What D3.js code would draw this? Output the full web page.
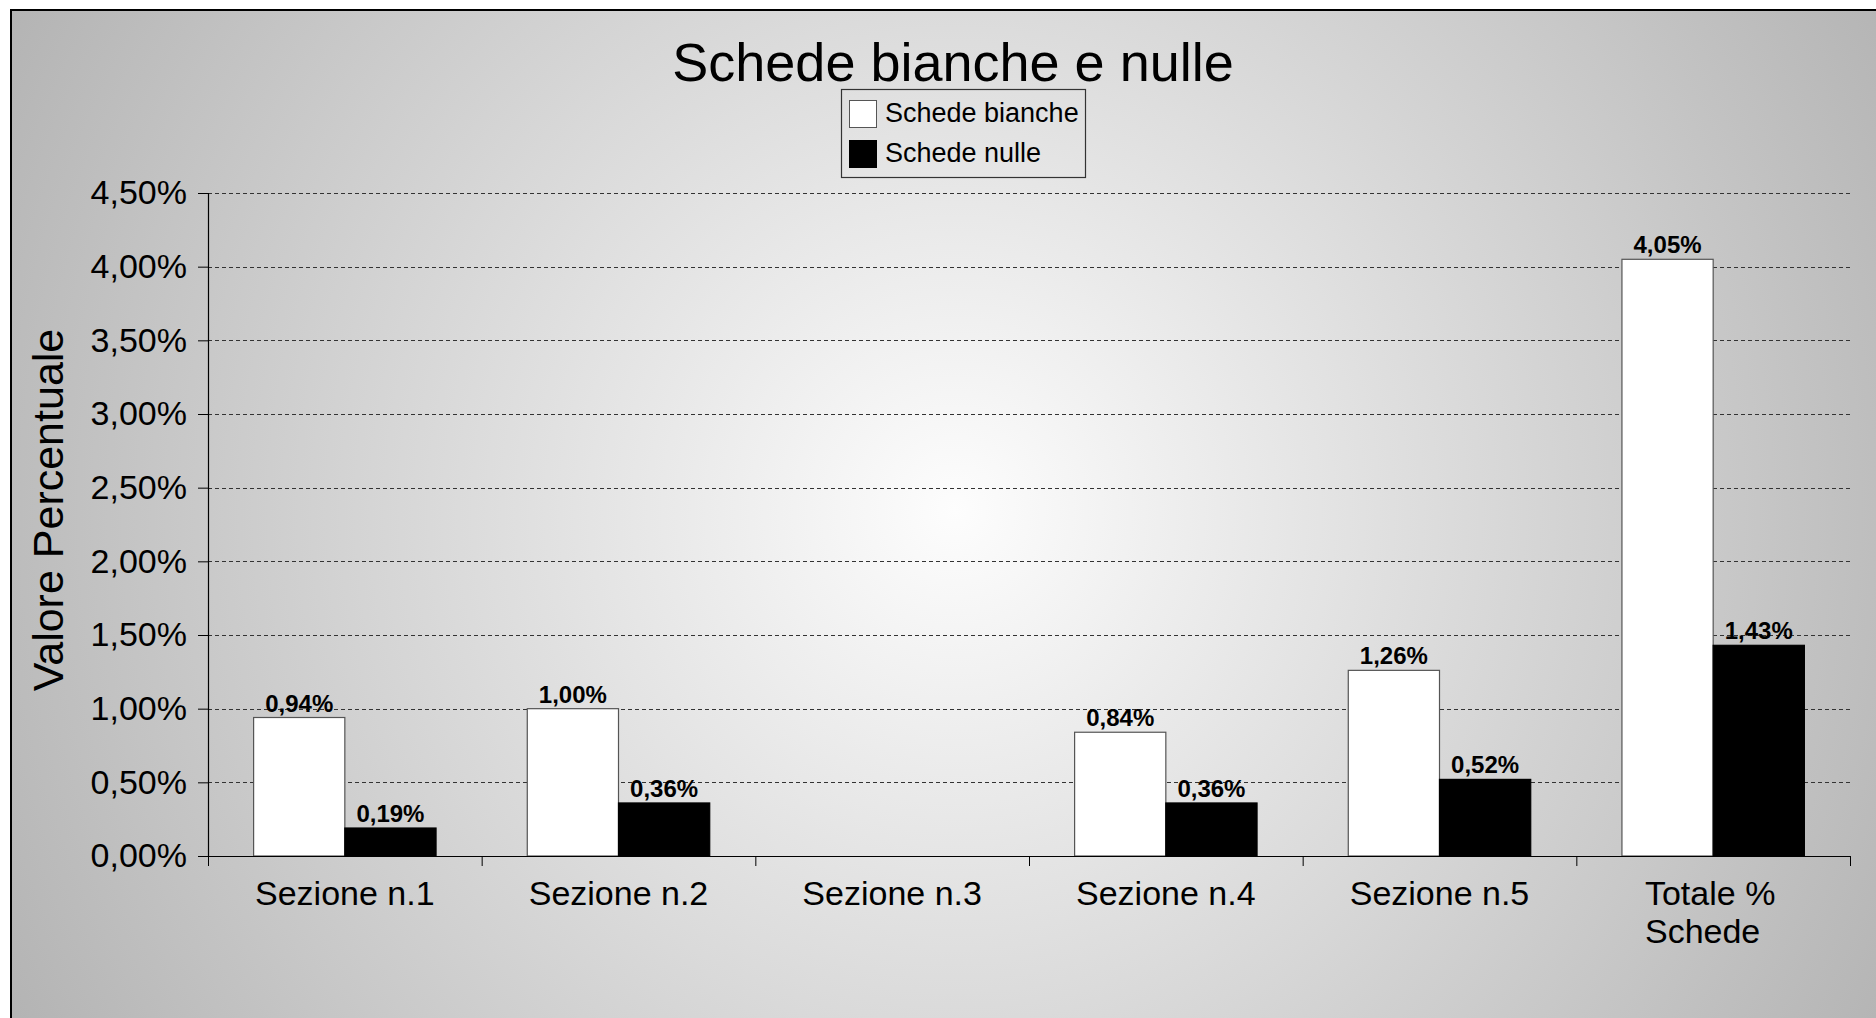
<!DOCTYPE html>
<html><head><meta charset="utf-8">
<script src="https://cdn.jsdelivr.net/npm/d3@7"></script>
<style>
html,body{margin:0;padding:0;background:#fff;}
svg{display:block;font-family:"Liberation Sans",Arial,sans-serif;}
</style></head>
<body>
<svg id="chart" width="1876" height="1018"></svg>
<script>
const categories = ["Sezione n.1","Sezione n.2","Sezione n.3","Sezione n.4","Sezione n.5","Totale %\nSchede"];
const seriesNames = ["Schede bianche","Schede nulle"];
const bianche = [0.94, 1.00, null, 0.84, 1.26, 4.05];
const nulle   = [0.19, 0.36, null, 0.36, 0.52, 1.43];
const yTicks = [0,0.5,1,1.5,2,2.5,3,3.5,4,4.5];
const seriesFill = ["#ffffff","#000000"];
const titleText = "Schede bianche e nulle";
const yTitle = "Valore Percentuale";

const svg = d3.select("#chart");
const W = 1876, H = 1018;
const fmt = v => d3.format(".2f")(v).replace(".", ",") + "%";

// background
const defs = svg.append("defs");
const rg = defs.append("radialGradient").attr("id","bg")
  .attr("gradientUnits","userSpaceOnUse").attr("cx",955).attr("cy",510).attr("r",1080);
rg.append("stop").attr("offset","0").attr("stop-color","#fdfdfd");
rg.append("stop").attr("offset","1").attr("stop-color","#b3b3b3");
svg.append("rect").attr("x",11).attr("y",10).attr("width",W).attr("height",H)
  .attr("fill","url(#bg)").attr("stroke","#000").attr("stroke-width",2);

const plot = {left:208, right:1850, top:193, bottom:856};
const x0 = d3.scaleBand().domain(d3.range(categories.length)).range([plot.left, plot.right]).paddingInner(0).paddingOuter(0);
const x1 = d3.scaleBand().domain([0,1]).range([0, x0.bandwidth()]).paddingInner(0).paddingOuter(0.5);
const y = d3.scaleLinear().domain([0,4.5]).range([plot.bottom, plot.top]);

// gridlines
svg.append("g").selectAll("line").data(yTicks.filter(d=>d>0)).join("line")
  .attr("x1",plot.left).attr("x2",plot.right)
  .attr("y1",d=>Math.round(y(d))+0.5).attr("y2",d=>Math.round(y(d))+0.5)
  .attr("stroke","#333").attr("stroke-width",1).attr("stroke-dasharray","4,3");

// bars
const data = [bianche, nulle];
const gBars = svg.append("g");
categories.forEach((c,i)=>{
  data.forEach((arr,s)=>{
    const v = arr[i];
    if (v == null) return;
    gBars.append("rect")
      .attr("x", x0(i)+x1(s)).attr("y", y(v))
      .attr("width", x1.bandwidth()).attr("height", y(0)-y(v))
      .attr("fill", seriesFill[s])
      .attr("stroke", s===0 ? "#555" : "#000").attr("stroke-width",1.2);
    gBars.append("text")
      .attr("x", x0(i)+x1(s)+x1.bandwidth()/2).attr("y", y(v)-6)
      .attr("text-anchor","middle").attr("font-size",24).attr("font-weight","bold")
      .attr("fill","#000").text(fmt(v));
  });
});

// y axis
const yAxis = d3.axisLeft(y).tickValues(yTicks).tickSize(10).tickPadding(11)
  .tickFormat(d=>fmt(d));
const gy = svg.append("g").attr("transform",`translate(${plot.left},0)`).call(yAxis);
gy.select(".domain").attr("stroke","#000").attr("stroke-width",1.2);
gy.selectAll(".tick line").attr("stroke","#000");
gy.selectAll(".tick text").attr("font-size",34).attr("font-family","Liberation Sans, Arial, sans-serif").attr("fill","#000");

// x axis
const xs = d3.scaleLinear().domain([0,categories.length]).range([plot.left, plot.right]);
const xAxis = d3.axisBottom(xs).tickValues(d3.range(categories.length+1)).tickSize(10).tickFormat("").tickSizeOuter(0);
const gx = svg.append("g").attr("transform",`translate(0,${plot.bottom})`).call(xAxis);
gx.select(".domain").attr("stroke","#000").attr("stroke-width",1.2);
gx.selectAll(".tick line").attr("stroke","#000");

// category labels
categories.forEach((c,i)=>{
  const lines = c.split("\n");
  const cx = x0(i)+x0.bandwidth()/2;
  const t = svg.append("text").attr("font-size",34).attr("fill","#000");
  lines.forEach((ln,k)=>{
    t.append("tspan").attr("y", 905 + k*38).text(ln);
  });
  if (lines.length===1) {
    t.attr("text-anchor","middle").selectAll("tspan").attr("x",cx);
  } else {
    const wMax = d3.max(t.selectAll("tspan").nodes(), n=>n.getComputedTextLength());
    t.attr("text-anchor","start").selectAll("tspan").attr("x",cx - wMax/2 - 3);
  }
});

// title
svg.append("text").attr("x",953).attr("y",81).attr("text-anchor","middle")
  .attr("font-size",54).attr("fill","#000").text(titleText);

// y title
svg.append("text").attr("transform","translate(63,510) rotate(-90)")
  .attr("text-anchor","middle").attr("font-size",43).attr("fill","#000").text(yTitle);

// legend
const lg = svg.append("g");
lg.append("rect").attr("x",841.5).attr("y",89.5).attr("width",244).attr("height",88)
  .attr("fill","none").attr("stroke","#333").attr("stroke-width",1.2);
seriesNames.forEach((n,s)=>{
  const yy = [100,140][s];
  lg.append("rect").attr("x",849.5).attr("y",yy+0.5).attr("width",27).attr("height",27)
    .attr("fill",seriesFill[s]).attr("stroke", s===0?"#555":"#000").attr("stroke-width",1);
  lg.append("text").attr("x",885).attr("y",yy+22).attr("font-size",27).attr("fill","#000").text(n);
});
</script>
</body></html>
